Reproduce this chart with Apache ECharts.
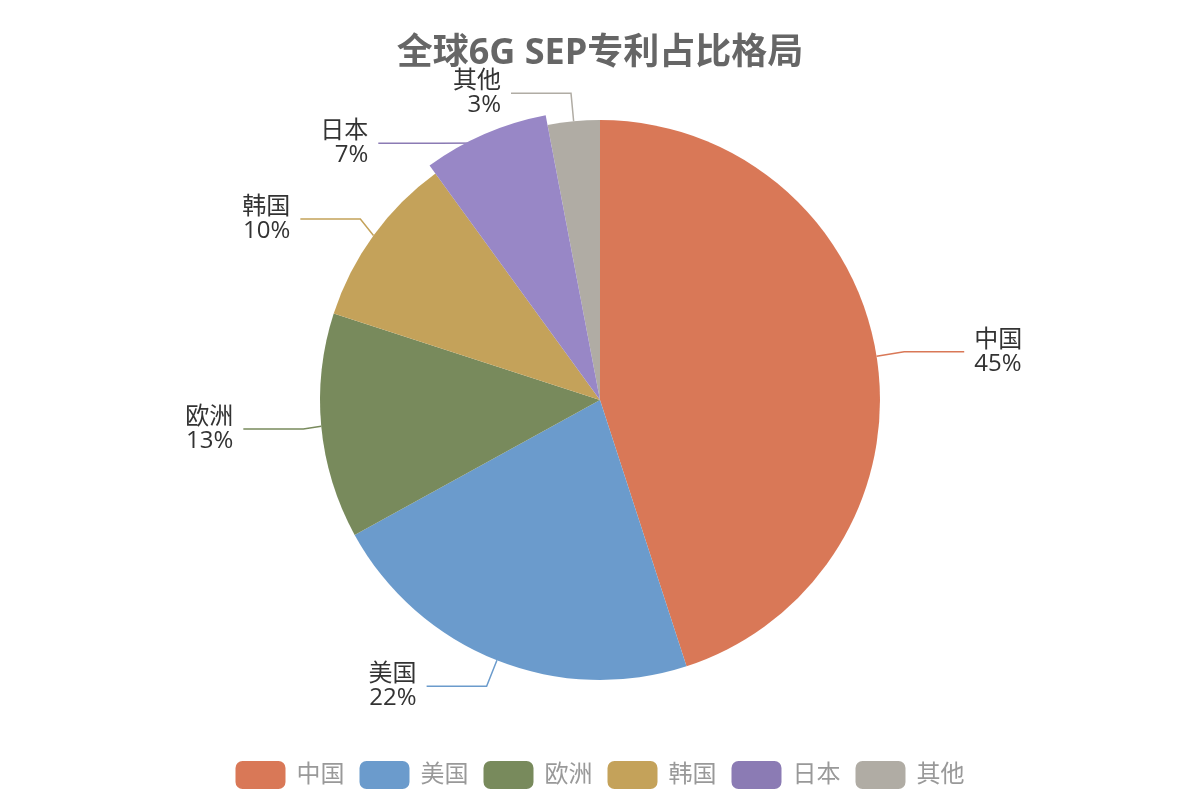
<!DOCTYPE html>
<html><head><meta charset="utf-8">
<script src="https://cdn.jsdelivr.net/npm/echarts@6/dist/echarts.min.js"></script>
<style>html,body{margin:0;padding:0;}#c{width:1200px;height:800px;}</style>
</head><body><div id="c"></div>
<script>
const titleText = '全球6G SEP专利占比格局';
const categories = ['中国','美国','欧洲','韩国','日本','其他'];
const shares = [45, 22, 13, 10, 7, 3];
const colors = ['#d97857','#6b9bcc','#788a5c','#c4a25a','#8b7bb4','#b0aca4'];
const highlightedName = '日本';

const chart = echarts.init(document.getElementById('c'));
const font = '"Open Sans", "Noto Sans CJK SC", sans-serif';
chart.setOption({
  animation: false,
  title: { text: titleText, left: 'center', top: 31,
    textStyle: { fontSize: 36, fontWeight: 'bold', color: '#666', fontFamily: font } },
  legend: { bottom: 6, itemWidth: 50, itemHeight: 28, itemGap: 15,
    textStyle: { fontSize: 24, color: '#999', fontFamily: font, padding: [0,0,0,6] },
    itemStyle: { borderRadius: 8 }, data: categories },
  series: [{
    type: 'pie', radius: '70%', center: ['50%','50%'], startAngle: 90,
    emphasis: { scale: true, scaleSize: 10 },
    label: { formatter: '{b}\n{d}%', fontSize: 24, lineHeight: 24, color: '#333', fontFamily: font,
      distanceToLabelLine: 10 },
    labelLine: { length: 28, length2: 60, lineStyle: { width: 1.5 } },
    data: categories.map((n, i) => ({
      name: n, value: shares[i], itemStyle: { color: colors[i] }
    }))
  }]
});
chart.dispatchAction({ type: 'highlight', seriesIndex: 0, dataIndex: categories.indexOf(highlightedName) });
</script></body></html>
